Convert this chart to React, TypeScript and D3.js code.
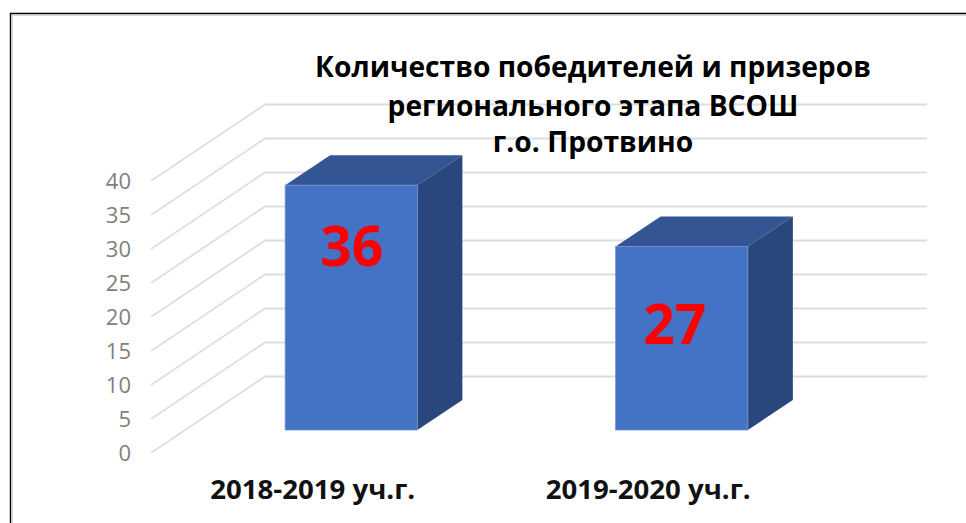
import React from "react";
import * as d3 from "d3";

const categories = ["2018-2019 уч.г.", "2019-2020 уч.г."];
const values = [36, 27];
const ticks = [0, 5, 10, 15, 20, 25, 30, 35, 40];
const titleLines = ["Количество победителей и призеров", "регионального этапа ВСОШ", "г.о. Протвино"];

const FONT = "'Open Sans', sans-serif";
const W = 966, H = 523;
const labelShiftX = [0.5, -7];
const labelShiftY = [-42, 5.5];
const catShiftX = [-38.5, -33.5];
const titleY = [77, 116, 152];

export default function App() {
  // height of a value above the floor
  const h = d3.scaleLinear().domain([0, 40]).range([0, 272]);
  const x = d3.scaleBand<string>().domain(categories).range([186, 847]).paddingInner(0.6).paddingOuter(0.3);
  const frontBase = 453, backBase = 376.5, barBase = 430;
  const frontX = 151, backX = 265, rightX = 927;
  const dx = 45, dy = -30;
  const bw = x.bandwidth();
  const poly = d3.line();

  return (
    <svg width={W} height={H} style={{ position: "fixed", left: 0, top: 0, background: "#fff" }}>
      <rect x={0} y={0} width={W} height={H} fill="#fff" />
      <path d={`M10.5 ${H}V13.5H${W}`} fill="none" stroke="#000" strokeWidth={1.4} />
      <path d={`M12.2 ${H}V15.2H${W}`} fill="none" stroke="#c8c8c8" strokeWidth={1} />

      {ticks.map((t) => (
        <g key={t}>
          <path
            d={poly([[frontX, frontBase - h(t)], [backX, backBase - h(t)], [rightX, backBase - h(t)]]) ?? ""}
            fill="none" stroke="#dedede" strokeWidth={1.8}
          />
          <text x={131} y={frontBase - h(t)} dy="0.36em" textAnchor="end" fontFamily={FONT} fontSize={22} fill="#7f7f7f">
            {t}
          </text>
        </g>
      ))}

      {categories.map((c, i) => {
        const x0 = x(c) as number, x1 = x0 + bw;
        const top = barBase - h(values[i]);
        return (
          <g key={c}>
            <path d={poly([[x0, top], [x0 + dx, top + dy], [x1 + dx, top + dy], [x1, top]]) + "Z"} fill="#335593" />
            <path d={poly([[x1, top], [x1 + dx, top + dy], [x1 + dx, barBase + dy], [x1, barBase]]) + "Z"} fill="#2a477d" />
            <rect x={x0} y={top} width={bw} height={barBase - top} fill="#4472c4" stroke="#6f93d3" strokeWidth={0.8} />
            <text x={x0 + bw / 2 + labelShiftX[i]} y={(top + barBase) / 2 + labelShiftY[i]}
              textAnchor="middle" fontFamily={FONT} fontWeight={700} fontSize={55} fill="#ff0000">
              {values[i]}
            </text>
            <text x={x0 + bw / 2 + catShiftX[i]} y={499} textAnchor="middle" fontFamily={FONT} fontWeight={700} fontSize={27.6} fill="#111">
              {c}
            </text>
          </g>
        );
      })}

      {titleLines.map((l, i) => (
        <text key={l} x={593} y={titleY[i]} textAnchor="middle" fontFamily={FONT} fontWeight={700} fontSize={28.2} fill="#000">
          {l}
        </text>
      ))}
    </svg>
  );
}
